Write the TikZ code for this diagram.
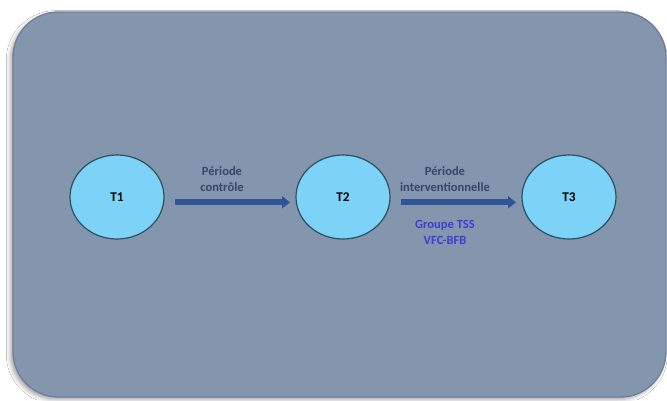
\documentclass[tikz,border=0pt]{standalone}
\usepackage{fontspec}
\setmainfont{Carlito}
\usetikzlibrary{shapes.geometric,arrows.meta,shadows.blur}
\definecolor{panel}{HTML}{8496AE}
\definecolor{panelrim}{HTML}{6F7F97}
\definecolor{circfill}{HTML}{7DD3F7}
\definecolor{circrim}{HTML}{2E4F5E}
\definecolor{arrowblue}{HTML}{2F5597}
\definecolor{labelgray}{HTML}{34466A}
\definecolor{labelblue}{HTML}{3A3FD0}
\tikzset{
  timept/.style={ellipse, draw=circrim, line width=0.9pt, fill=circfill,
    minimum width=70.5pt, minimum height=63pt, inner sep=0pt,
    font=\bfseries\fontsize{10pt}{12pt}\selectfont, text=black},
  period/.style={-{Triangle[width=9pt,length=6pt]}, line width=4.5pt, draw=arrowblue},
  lbl/.style={align=center, font=\bfseries\fontsize{9.4pt}{12pt}\selectfont, text=labelgray},
  grp/.style={align=center, font=\bfseries\fontsize{9.4pt}{12pt}\selectfont, text=labelblue}
}
\begin{document}
\begin{tikzpicture}[x=0.75pt,y=-0.75pt]
\useasboundingbox (0,0) rectangle (667,400);
\fill[white] (0,0) rectangle (667,400);
\draw[panelrim, fill=panel, line width=1pt, rounded corners=34pt,
  blur shadow={shadow xshift=-2pt, shadow yshift=-2pt, shadow blur radius=3pt, shadow opacity=35}]
  (13,12) rectangle (666,397);
\node[timept] (T1) at (117,197) {T1};
\node[timept] (T2) at (343,197) {T2};
\node[timept] (T3) at (569,197) {T3};
\draw[period, shorten <=8pt, shorten >=4pt] ([yshift=-4pt]T1.east) -- ([yshift=-4pt]T2.west);
\draw[period, shorten <=8pt, shorten >=4pt] ([yshift=-4pt]T2.east) -- ([yshift=-4pt]T3.west);
\node[lbl] (L1) at (222,179) {Période\\contrôle};
\node[lbl] (L2) at (445,179) {Période\\interventionnelle};
\node[grp] (G2) at (445,232) {Groupe TSS\\VFC-BFB};
\end{tikzpicture}
\end{document}
